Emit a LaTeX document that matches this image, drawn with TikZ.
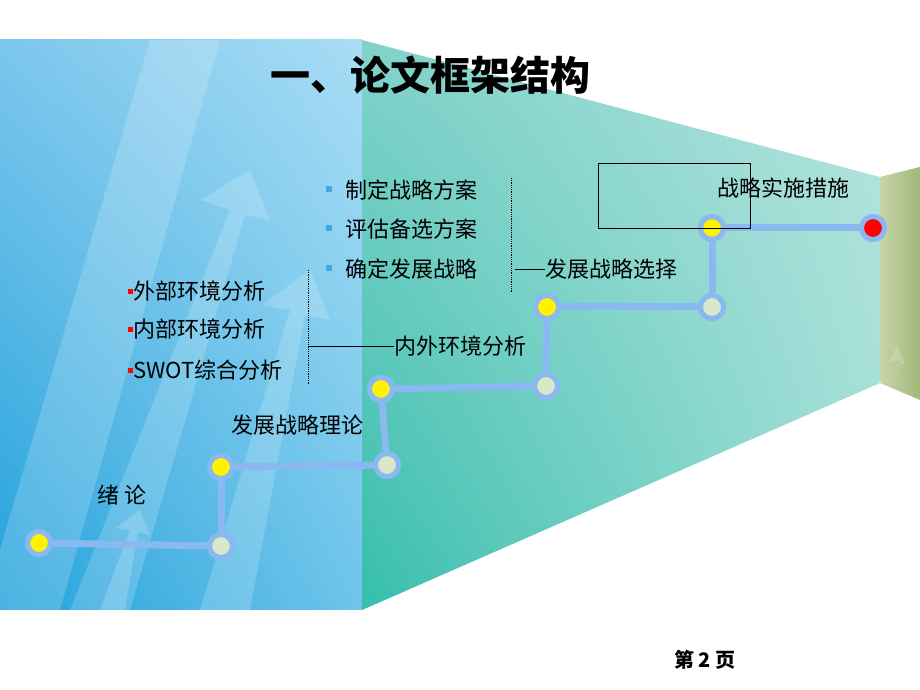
\documentclass[tikz,border=0pt]{standalone}
\usepackage{fontspec}
\setmainfont{Noto Sans CJK SC}
\usetikzlibrary{arrows.meta,shadings}
\definecolor{ring}{HTML}{8AB8F0}
\definecolor{pale}{HTML}{D8E8C8}
\definecolor{bblue}{HTML}{3FA9E0}
\definecolor{lbul}{HTML}{7CC6EC}
\definecolor{lbur}{HTML}{A8DDF4}
\definecolor{lbll}{HTML}{22A2DC}
\definecolor{lblr}{HTML}{6EC4EA}
\definecolor{mul}{HTML}{82D2CA}
\definecolor{mur}{HTML}{B4E4DE}
\definecolor{mll}{HTML}{36BEAC}
\definecolor{mlr}{HTML}{A0DED6}
\definecolor{rl}{HTML}{C8D4AA}
\definecolor{rr}{HTML}{A0B978}
\tikzset{
 stop/.style={circle,draw=ring,line width=5pt,minimum size=23pt,inner sep=0pt},
 yel/.style={stop,fill=yellow},
 pal/.style={stop,fill=pale},
 rd/.style={stop,fill=red},
 link/.style={ring,line width=7pt},
 lbl/.style={font=\fontsize{22}{24}\selectfont,inner sep=0pt},
 dots/.style={densely dotted,line width=0.8pt},
}
\newcommand{\rb}{\textcolor{red}{\rule[0.25em]{0.22em}{0.22em}}}
\newcommand{\bb}{\textcolor{bblue}{\rule[0.3em]{0.28em}{0.28em}}\hspace{0.6em}}
\begin{document}
\begin{tikzpicture}[x=1pt,y=1pt]
\useasboundingbox (0,0) rectangle (920,690);
\fill[white] (0,0) rectangle (920,690);
% panels
\shade[upper left=lbul,upper right=lbur,lower left=lbll,lower right=lblr]
 (0,80) rectangle (362,650);
\shade[upper left=mul,upper right=mur,lower left=mll,lower right=mlr]
 (362,650) -- (880,513) -- (880,307) -- (362,80) -- cycle;
\shade[left color=rl,right color=rr]
 (880,513) -- (920,523) -- (920,290) -- (880,307) -- cycle;
% decorative arrows
\begin{scope}[white,opacity=0.18]
\fill (0,140) -- (150,650) -- (220,650) -- (60,80) -- (0,80) -- cycle;
\fill (70,80) -- (230,480) -- (200,490) -- (250,520) -- (270,470) -- (245,475) -- (130,80) -- cycle;
\fill (200,80) -- (290,380) -- (262,385) -- (310,420) -- (330,370) -- (305,375) -- (250,80) -- cycle;
\fill (100,80) -- (130,160) -- (115,162) -- (140,180) -- (150,155) -- (138,158) -- (125,80) -- cycle;
\fill (890,300) -- (900,330) -- (890,328) -- (897,345) -- (905,325) -- (898,327) -- cycle;
\end{scope}
% stops
\node[yel] (n1) at (39,147) {};
\node[pal] (n2) at (221,144) {};
\node[yel] (n3) at (221,223) {};
\node[pal] (n4) at (387,225) {};
\node[yel] (n5) at (381,301) {};
\node[pal] (n6) at (546,304) {};
\node[yel] (n7) at (547,383) {};
\node[pal] (n8) at (712,383) {};
\node[yel] (n9) at (712,462) {};
\node[rd] (n10) at (873,462) {};
\draw[link] (n1) -- (n2); \draw[link] (n2) -- (n3); \draw[link] (n3) -- (n4);
\draw[link] (n4) -- (n5); \draw[link] (n5) -- (n6); \draw[link] (n6) -- (n7);
\draw[link] (n7) -- (n8); \draw[link] (n8) -- (n9); \draw[link] (n9) -- (n10);
\foreach \n/\s in {n1/yel,n2/pal,n3/yel,n4/pal,n5/yel,n6/pal,n7/yel,n8/pal,n9/yel,n10/rd}
  \node[\s] at (\n) {};
% title
\node[font=\fontsize{40}{44}\selectfont\bfseries] (title) at (430,615) {一、论文框架结构};
% labels
\node[lbl] (l1) at (122,195) {绪 论};
\node[lbl] (l2) at (297,265) {发展战略理论};
\node[lbl] (l3) at (460,344) {内外环境分析};
\coordinate (c3) at (308,344);
\draw[line width=0.8pt] (c3) -- (l3.west);
\coordinate (d3a) at (308,420); \coordinate (d3b) at (308,305);
\draw[dots] (d3a) -- (d3b);
\node[lbl,anchor=west] (a1) at (128,399) {{\rb}外部环境分析};
\node[lbl,anchor=west] (a2) at (128,361) {{\rb}内部环境分析};
\node[lbl,anchor=west] (a3) at (128,320) {{\rb}SWOT综合分析};
\node[lbl,anchor=west] (b1) at (326,500) {{\bb}制定战略方案};
\node[lbl,anchor=west] (b2) at (326,461) {{\bb}评估备选方案};
\node[lbl,anchor=west] (b3) at (326,421) {{\bb}确定发展战略};
\coordinate (d4a) at (511,512); \coordinate (d4b) at (511,397);
\draw[dots] (d4a) -- (d4b);
\node[lbl,anchor=west] (l4) at (545,421) {发展战略选择};
\coordinate (c4) at (515,421);
\draw[line width=0.8pt] (c4) -- (l4.west);
\node[draw,line width=0.6pt,minimum width=152pt,minimum height=65pt,inner sep=0pt] (box) at (674,494.5) {};
\node[lbl] (l5) at (783,502) {战略实施措施};
\node[font=\fontsize{20}{22}\selectfont\bfseries,inner sep=0pt] (pg) at (705,30) {第 2 页};
\end{tikzpicture}
\end{document}
